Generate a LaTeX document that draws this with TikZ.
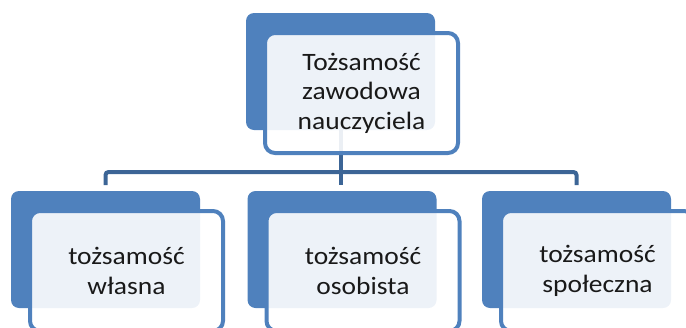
\documentclass[tikz,border=0pt]{standalone}
\usepackage{fontspec}
\setmainfont{Carlito}[FakeStretch=1.1]
\definecolor{smblue}{HTML}{4F81BD}
\definecolor{smline}{HTML}{3C6596}
\tikzset{
  backbox/.style={fill=smblue, rounded corners=8pt, minimum width=189pt, minimum height=117pt, inner sep=0pt},
  frontbox/.style={draw=smblue, line width=4pt, fill=white, fill opacity=0.9, text opacity=1,
    rounded corners=10pt, minimum width=193pt, minimum height=120pt, inner sep=0pt,
    align=center, text=black!90, font=\fontsize{25}{29.5}\selectfont},
  link/.style={draw=smline, line width=4pt, rounded corners=3pt},
}
\begin{document}
\begin{tikzpicture}[x=1pt, y=-1pt]
        \useasboundingbox (0,0) rectangle (686,327);                 %
        \node [backbox] (top) at (340.5,71.5) {};                    %top back
        \node [backbox] (b1)  at (105.5,249.5) {};                   %
        \node [backbox] (b2)  at (342,249.5) {};                     %
        \node [backbox] (b3)  at (576.5,249.5) {};                   %
        \coordinate (bus)  at (0,172);                               %
        \coordinate (drop) at (0,185);                               %
        \draw [link] (top.south) -- (top.south |- drop);             %
        \draw [link] (b1.north |- drop) -- (b1.north |- bus)
                     -- (b3.north |- bus) -- (b3.north |- drop);     %
        \node [frontbox] (topf) at (361.5,93)  {Tożsamość\\zawodowa\\nauczyciela};
        \node [frontbox] (f1)   at (126.5,271) {tożsamość\\własna};  %
        \node [frontbox] (f2)   at (363,271)   {tożsamość\\osobista};%
        \node [frontbox] (f3)   at (597.5,271) {tożsamość\\społeczna};
\end{tikzpicture}
\end{document}
